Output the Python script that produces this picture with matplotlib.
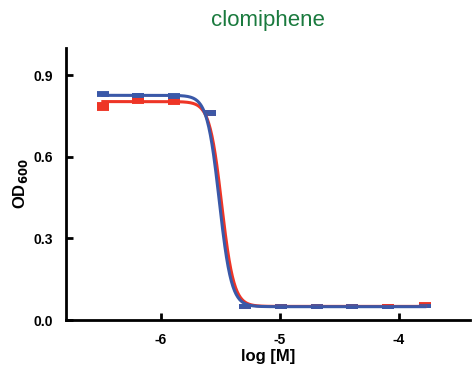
import numpy as np
import matplotlib
matplotlib.use("Agg")
import matplotlib.pyplot as plt

plt.rcParams['font.family'] = ['Liberation Sans', 'DejaVu Sans']

# 2-fold dilution series, log10 molar
log_conc = [-6.49, -6.19, -5.89, -5.59, -5.29, -4.99, -4.69, -4.39, -4.09, -3.78]

# replicate set 1 (red)
red_mean = [0.784, 0.806, 0.804, 0.762, 0.050, 0.048, 0.048, 0.049, 0.050, 0.056]
red_err = [0.010, 0.006, 0.006, 0.004, 0.002, 0.002, 0.002, 0.002, 0.002, 0.003]
# replicate set 2 (blue)
blue_mean = [0.830, 0.826, 0.824, 0.760, 0.050, 0.048, 0.048, 0.048, 0.049, 0.053]
blue_err = [0.003, 0.003, 0.005, 0.004, 0.002, 0.002, 0.002, 0.002, 0.002, 0.002]

# fitted 4-parameter logistic curves: top, bottom, logIC50, hill slope
red_fit = (0.803, 0.050, -5.49, 8.5)
blue_fit = (0.826, 0.049, -5.51, 8.5)

red_col = '#ee3526'
blue_col = '#3a58a8'


def hill(x, top, bottom, log_ic50, slope):
    return bottom + (top - bottom) / (1 + 10 ** ((x - log_ic50) * slope))


fig = plt.figure(figsize=(4.74, 3.72), dpi=100)
ax = fig.add_axes([66 / 474, 52 / 372, 404 / 474, 272 / 372])

xs = np.linspace(log_conc[0], log_conc[-1], 600)
for mean, err, fit, col in [(red_mean, red_err, red_fit, red_col),
                            (blue_mean, blue_err, blue_fit, blue_col)]:
    ax.errorbar(log_conc, mean, yerr=err, fmt='_', color=col, ms=9, mew=2.8,
                elinewidth=1.5, capsize=4.5, capthick=1.5, zorder=3)
    ax.plot(xs, hill(xs, *fit), color=col, lw=2.2, zorder=4)

ax.set_xlim(-6.8, -3.4)
ax.set_ylim(0, 1.0)
ax.set_xticks([-6, -5, -4])
ax.set_xticklabels(['-6', '-5', '-4'])
ax.set_yticks([0.0, 0.3, 0.6, 0.9])
ax.set_yticklabels(['0.0', '0.3', '0.6', '0.9'])

for side in ['top', 'right']:
    ax.spines[side].set_visible(False)
for side in ['left', 'bottom']:
    ax.spines[side].set_linewidth(2)
ax.tick_params(direction='in', width=2, length=5, labelsize=10, pad=9)
for lab in ax.get_xticklabels() + ax.get_yticklabels():
    lab.set_fontweight('bold')

ax.set_xlabel('log [M]', fontsize=12, fontweight='bold', labelpad=2)
ax.set_ylabel('OD$_{\\mathbf{600}}$', fontsize=12, fontweight='bold', labelpad=3)
ax.set_title('clomiphene', color='#1a7a3e', fontsize=16, pad=16)

fig.savefig('out.png', dpi=100)
